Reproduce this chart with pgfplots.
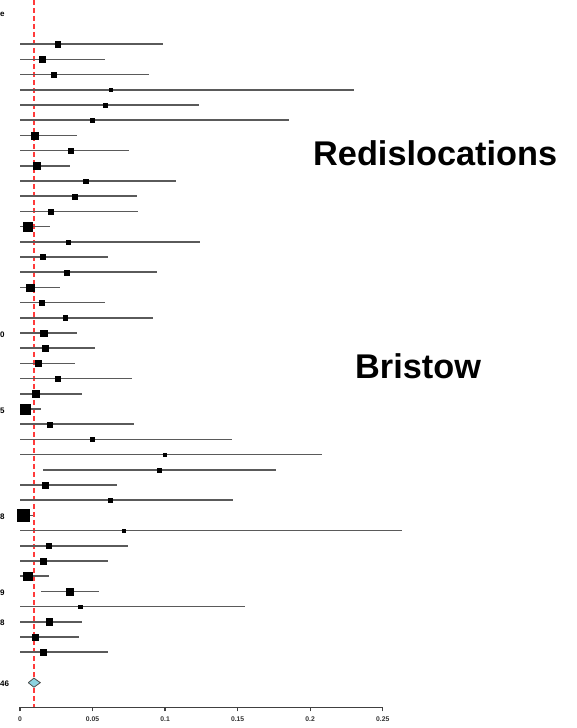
\documentclass[border=0pt]{standalone}
\usepackage{pgfplots}
\pgfplotsset{compat=1.18}
\usepackage{pgfplotstable}
\usepackage{fontspec}
\setmainfont{Liberation Sans}
\definecolor{barcol}{HTML}{5A5A5A}
\definecolor{refred}{HTML}{FF3B3B}
\definecolor{diamfill}{HTML}{8ED3E0}

\pgfplotstableread{
k est lo hi s
1 0.0260 0 0.0988 5.3
2 0.0152 0 0.0586 6.0
3 0.0234 0 0.0891 5.5
4 0.0625 0 0.2302 3.0
5 0.0588 0 0.1236 3.5
6 0.0498 0 0.1854 3.3
7 0.0099 0 0.0391 7.0
8 0.0351 0 0.0753 5.0
9 0.0115 0 0.0343 7.5
10 0.0453 0 0.1073 4.3
11 0.0377 0 0.0804 5.0
12 0.0214 0 0.0811 5.0
13 0.0053 0 0.0207 8.8
14 0.0331 0 0.1241 4.0
15 0.0159 0 0.0604 5.0
16 0.0319 0 0.0942 5.0
17 0.0071 0 0.0278 7.5
18 0.0152 0 0.0586 5.0
19 0.0310 0 0.0917 4.5
20 0.0163 0 0.0395 6.5
21 0.0172 0 0.0517 6.0
22 0.0124 0 0.0379 6.0
23 0.0260 0 0.0774 5.0
24 0.0108 0 0.0425 6.5
25 0.0034 0 0.0145 10.0
26 0.0205 0 0.0784 5.0
27 0.0498 0 0.1459 4.0
28 0.0999 0 0.2079 3.0
29 0.0960 0.0156 0.1764 4.0
30 0.0174 0 0.0668 5.5
31 0.0622 0 0.1466 4.3
32 0.0023 0 0.0092 12.0
33 0.0715 0 0.2635 3.0
34 0.0198 0 0.0746 5.0
35 0.0159 0 0.0606 5.5
36 0.0053 0 0.0202 8.5
37 0.0345 0.0143 0.0544 7.0
38 0.0414 0 0.1551 3.5
39 0.0200 0 0.0427 6.5
40 0.0106 0 0.0409 6.5
41 0.0159 0 0.0606 5.5
}\studies

\begin{document}
\begin{tikzpicture}
\useasboundingbox (0,0) rectangle (577pt,728pt);
\begin{axis}[
  at={(20pt,20.7pt)}, anchor=south west,
  scale only axis, width=362.7pt, height=707.3pt,
  xmin=0, xmax=0.25, ymin=-44.62, ymax=1.914,
  clip=false,
  axis x line*=bottom, axis y line=none,
  x axis line style={black!75, line width=1.2pt, -},
  xtick={0,0.05,0.1,0.15,0.2,0.25},
  xticklabels={0,0.05,0.1,0.15,0.2,0.25},
  tick align=outside, major tick length=4pt,
  x tick style={black!75, line width=1.2pt},
  xticklabel style={font=\fontsize{6.8}{7}\selectfont\bfseries, text=black!80, yshift=-2pt},
]
% reference line
\addplot[refred, line width=1.4pt, dash pattern=on 5pt off 3pt] coordinates {(0.0097,1.914) (0.0097,-44.62)};
% confidence intervals
\addplot[draw=none, mark=none,
  error bars/.cd, x dir=both, x explicit, error mark=none,
  error bar style={barcol, line width=1.6pt}]
  table[x=est, y expr=-\thisrow{k},
        x error plus expr=\thisrow{hi}-\thisrow{est},
        x error minus expr=\thisrow{est}-\thisrow{lo}] {\studies};
% point estimates (size = study weight)
\addplot[only marks, mark=square*, scatter,
  scatter/use mapped color={draw=black, fill=black},
  visualization depends on={\thisrow{s}/2 \as \msize},
  scatter/@pre marker code/.append style={/tikz/mark size=\msize}]
  table[x=est, y expr=-\thisrow{k}] {\studies};
% pooled estimate
\addplot[draw=black!70, line width=0.8pt, fill=diamfill] coordinates {(0.0057,-43) (0.0096,-42.7) (0.0140,-43) (0.0096,-43.3) (0.0057,-43)};
\end{axis}
\node[anchor=base west, inner sep=0pt, font=\fontsize{34.3}{36}\selectfont\bfseries] at (313pt,562.3pt) {Redislocations};
\node[anchor=base west, inner sep=0pt, font=\fontsize{34.3}{36}\selectfont\bfseries] at (355pt,349.7pt) {Bristow};
% visible ends of the study labels at the left edge
\begin{scope}[every node/.style={anchor=west, inner sep=0pt, font=\fontsize{8}{9}\selectfont\bfseries}]
\node at (0pt,714pt) {e};
\node at (0pt,393.3pt) {0};
\node at (0pt,317pt) {5};
\node at (0pt,211.3pt) {8};
\node at (0pt,135.7pt) {9};
\node at (0pt,105pt) {8};
\node at (0pt,44pt) {46};
\end{scope}
\end{tikzpicture}
\end{document}
